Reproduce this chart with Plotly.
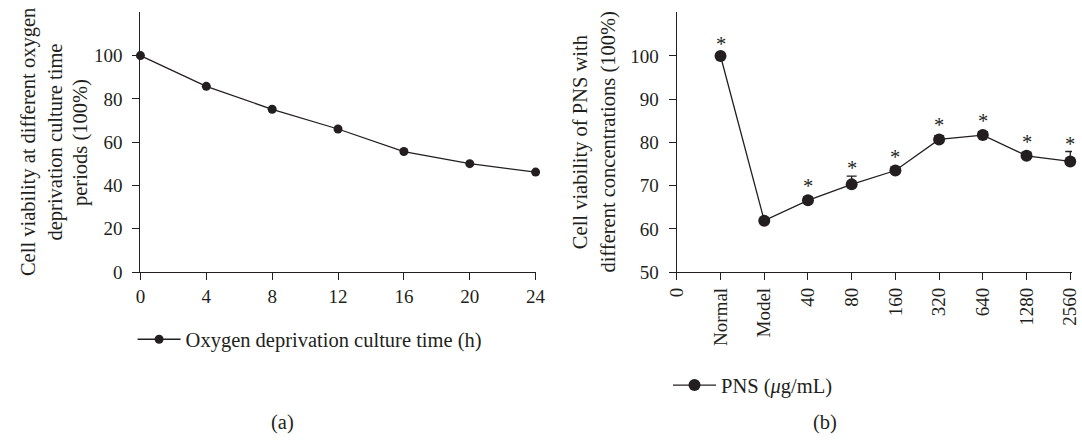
import plotly.graph_objects as go

# ---------------- data ----------------
time_h = [0, 4, 8, 12, 16, 20, 24]
viability_time = [100, 85.8, 75.2, 66.1, 55.7, 50.1, 46.2]

conc_categories = ["0", "Normal", "Model", "40", "80", "160", "320", "640", "1280", "2560"]
pns_groups = ["Normal", "Model", "40", "80", "160", "320", "640", "1280", "2560"]
viability_pns = [100, 61.9, 66.6, 70.3, 73.5, 80.7, 81.7, 76.9, 75.6]
pns_err = [0, 0, 0.8, 1.9, 0.8, 0.8, 0.8, 0.8, 2.3]
pns_sig = ["*", "", "*", "*", "*", "*", "*", "*", "*"]

left_title = ["Cell viability at different oxygen", "deprivation culture time", "periods (100%)"]
right_title = ["Cell viability of PNS with", "different concentrations (100%)"]

# ---------------- style ----------------
INK = "#231f20"
FONT = "Liberation Serif"
FS_TICK = 19
FS_TEXT = 20.5
W, H = 1082, 447


def px_x(p):
    return p / W


def px_y(p):
    return (H - p) / H


fig = go.Figure()

fig.add_trace(go.Scatter(
    x=time_h, y=viability_time, mode="lines+markers",
    name="Oxygen deprivation culture time (h)",
    line=dict(color=INK, width=1.3),
    marker=dict(color=INK, size=9),
    xaxis="x", yaxis="y", cliponaxis=False, legend="legend",
))

fig.add_trace(go.Scatter(
    x=pns_groups, y=viability_pns, mode="lines+markers",
    name="PNS (<i>μ</i>g/mL)",
    line=dict(color=INK, width=1.3),
    marker=dict(color=INK, size=12),
    error_y=dict(type="data", symmetric=False, array=pns_err,
                 arrayminus=[0] * len(pns_err), color=INK, thickness=1.3, width=5),
    xaxis="x2", yaxis="y2", cliponaxis=False, legend="legend2",
))

axis_common = dict(
    showline=True, linecolor=INK, linewidth=1.3, ticks="outside", ticklen=7,
    tickwidth=1.3, tickcolor=INK, showgrid=False, zeroline=False,
    tickfont=dict(family=FONT, size=FS_TICK, color=INK),
)

ydom = [px_y(279), px_y(12.6)]
text_font = dict(family=FONT, size=FS_TEXT, color=INK)

fig.update_layout(
    width=W, height=H,
    margin=dict(l=0, r=0, t=0, b=0),
    paper_bgcolor="white", plot_bgcolor="white",
    font=dict(family=FONT, size=FS_TICK, color=INK),
    xaxis=dict(domain=[px_x(132), px_x(535)], range=[0, 24],
               tickvals=time_h, anchor="y", **axis_common),
    yaxis=dict(domain=ydom, range=[0, 120], tickvals=[0, 20, 40, 60, 80, 100],
               anchor="x", ticklabelstandoff=6, **axis_common),
    xaxis2=dict(domain=[px_x(679), 1], type="category",
                categoryorder="array", categoryarray=conc_categories,
                tickvals=conc_categories, range=[0, 9.04], tickangle=-90,
                anchor="y2", **axis_common),
    yaxis2=dict(domain=ydom, range=[50, 110.1], tickvals=[50, 60, 70, 80, 90, 100],
                anchor="x2", ticklabelstandoff=6, **axis_common),
    legend=dict(x=px_x(124), y=px_y(348), xanchor="left", yanchor="middle",
                bgcolor="rgba(0,0,0,0)", font=text_font, itemwidth=43),
    legend2=dict(x=px_x(670), y=px_y(395), xanchor="left", yanchor="middle",
                 bgcolor="rgba(0,0,0,0)", font=text_font, itemwidth=43),
    showlegend=True,
)

annotations = []
# significance stars (x given as category index so numeric-looking names are not misread)
for g, v, e, s in zip(pns_groups, viability_pns, pns_err, pns_sig):
    if s:
        annotations.append(dict(x=conc_categories.index(g), y=v, xref="x2", yref="y2",
                                text=s, showarrow=False, yanchor="middle",
                                yshift=12 + 2.5 * e, font=text_font))
# axis titles
for i, t in enumerate(left_title):
    annotations.append(dict(x=px_x([18, 45, 71][i]), y=px_y(146), xref="paper", yref="paper",
                            text=t, textangle=-90, showarrow=False,
                            xanchor="center", yanchor="middle", font=text_font))
for i, t in enumerate(right_title):
    annotations.append(dict(x=px_x([581, 609][i]), y=px_y(146), xref="paper", yref="paper",
                            text=t, textangle=-90, showarrow=False,
                            xanchor="center", yanchor="middle", font=text_font))
# panel labels
annotations.append(dict(x=px_x(277), y=px_y(433), xref="paper", yref="paper", text="(a)",
                        xanchor="center", yanchor="middle",
                        showarrow=False, font=text_font))
annotations.append(dict(x=px_x(830), y=px_y(433), xref="paper", yref="paper", text="(b)",
                        xanchor="center", yanchor="middle",
                        showarrow=False, font=text_font))
fig.update_layout(annotations=annotations)

fig.write_html(
    "out.html",
    config={"displayModeBar": False},
    post_script="document.body.style.margin='0px';document.body.style.overflow='hidden';",
)
